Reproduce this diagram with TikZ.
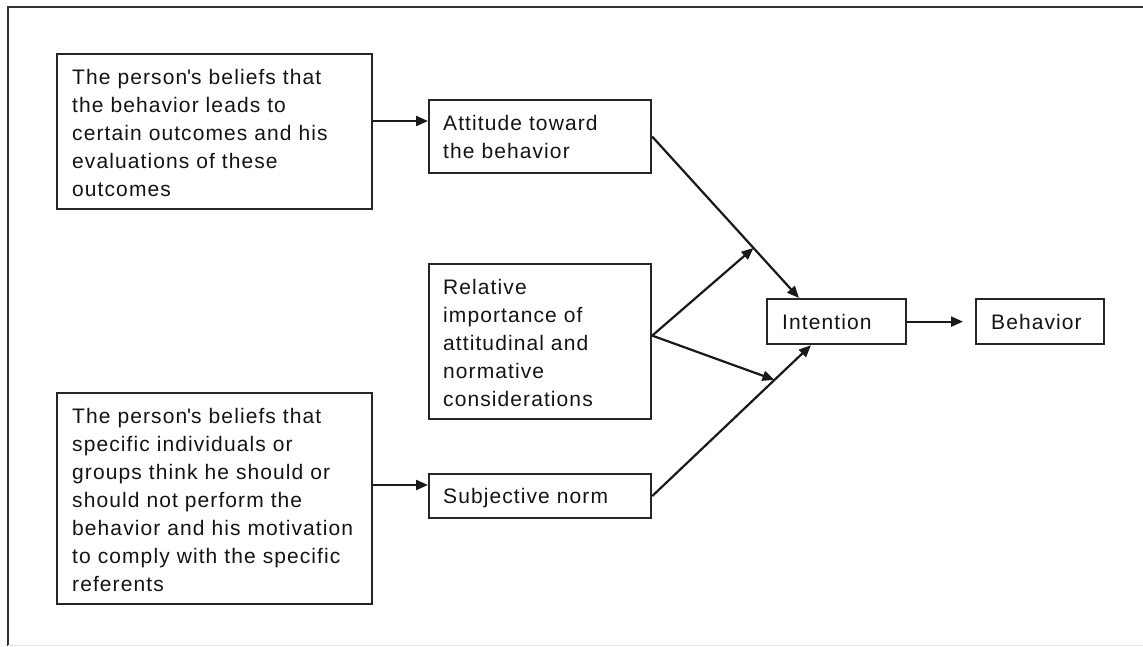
\documentclass[tikz,border=0pt]{standalone}
\usepackage{fontspec}
\setmainfont{Liberation Sans}[LetterSpace=5.2]
\usetikzlibrary{arrows.meta,calc}

\tikzset{
  box/.style={draw=black!85, line width=2.2pt, fill=white, inner sep=0pt,
    anchor=north west},
  txt/.style={anchor=north west, inner sep=0pt, align=left, text width=#1,
    font=\fontsize{21}{28}\selectfont, text=black!92},
  txt/.default=300pt,
  link/.style={line width=2.2pt, draw=black!90,
    -{Triangle[length=12pt,width=10pt]}},
  frameline/.style={line width=2.2pt, draw=black!80},
}
% first-line strut: keeps every text block's top a fixed distance above its first baseline
\newcommand{\firstline}{\rule{0pt}{20pt}}

\begin{document}
\begin{tikzpicture}[x=1pt, y=-1pt]
  \useasboundingbox (0,0) rectangle (1143,646);

  % page frame
  \draw[frameline] (8,646) -- (8,7) -- (1143,7);
  \draw[line width=1pt, draw=black!10] (8,645) -- (1143,645);

  % boxes
  \node[box, minimum width=315pt, minimum height=155pt] (beliefs) at (56,53) {};
  \node[box, minimum width=222pt, minimum height=73pt]  (attitude) at (428,99) {};
  \node[box, minimum width=222pt, minimum height=155pt] (relative) at (428,263) {};
  \node[box, minimum width=315pt, minimum height=211pt] (normbeliefs) at (56,392) {};
  \node[box, minimum width=222pt, minimum height=44pt]  (subjective) at (428,473) {};
  \node[box, minimum width=139pt, minimum height=45pt]  (intention) at (766,298) {};
  \node[box, minimum width=128pt, minimum height=45pt]  (behavior) at (975,298) {};

  % texts
  \node[txt] (beliefsT) at ([shift={(16pt,-11pt)}]beliefs.north west)
    {\firstline The person\textquotesingle s beliefs that\\the behavior leads to\\certain outcomes and his\\evaluations of these\\outcomes};
  \node[txt] (attitudeT) at ([shift={(15pt,-11pt)}]attitude.north west)
    {\firstline Attitude toward\\the behavior};
  \node[txt] (relativeT) at ([shift={(15pt,-11pt)}]relative.north west)
    {\firstline Relative\\importance of\\attitudinal and\\normative\\considerations};
  \node[txt] (normbeliefsT) at ([shift={(16pt,-11pt)}]normbeliefs.north west)
    {\firstline The person\textquotesingle s beliefs that\\specific individuals or\\groups think he should or\\should not perform the\\behavior and his motivation\\to comply with the specific\\referents};
  \node[txt] (subjectiveT) at ([shift={(15pt,-10pt)}]subjective.north west)
    {\firstline Subjective norm};
  \node[txt] (intentionT) at ([shift={(16pt,-11pt)}]intention.north west)
    {\firstline Intention};
  \node[txt] (behaviorT) at ([shift={(16pt,-11pt)}]behavior.north west)
    {\firstline Behavior};

  % connection points
  \coordinate (intTop) at ([xshift=33pt]intention.north west);
  \coordinate (intBot) at ([xshift=45pt]intention.south west);
  \coordinate (relOut) at ([yshift=6pt]relative.east);
  \coordinate (onAtt)  at ($(attitude.east)!0.69!(intTop)$);
  \coordinate (onSubj) at ($(subjective.east)!0.77!(intBot)$);

  % connectors
  \draw[link] ([yshift=-68pt]beliefs.north east) -- ([yshift=-22pt]attitude.north west);
  \draw[link] ([yshift=-93pt]normbeliefs.north east) -- ([yshift=-12pt]subjective.north west);
  \draw[link] (attitude.east) -- (intTop);
  \draw[link] (subjective.east) -- (intBot);
  \draw[link] (relOut) -- (onAtt);
  \draw[link] (relOut) -- (onSubj);
  \draw[link, shorten >=12pt] (intention.east) -- (behavior.west);
\end{tikzpicture}
\end{document}
